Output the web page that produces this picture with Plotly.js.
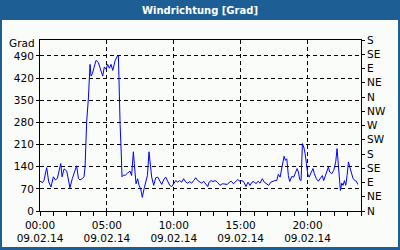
<!DOCTYPE html>
<html>
<head>
<meta charset="utf-8">
<script src="https://cdn.plot.ly/plotly-3.0.1.min.js"></script>
<style>html,body{margin:0;padding:0;background:#1d5f95;}#chart{width:400px;height:250px;}</style>
</head>
<body>
<div id="chart"></div>
<script>
// time of day in hours (09.02.14)
const hours = [0,0.20,0.30,0.50,0.65,0.82,1.00,1.15,1.30,1.45,1.55,1.65,1.80,2.00,2.12,2.24,2.42,2.57,2.74,2.87,2.99,3.19,3.29,3.37,3.42,3.49,3.62,3.69,3.74,3.82,3.92,4.04,4.19,4.36,4.54,4.69,4.81,4.94,5.06,5.19,5.31,5.44,5.61,5.79,5.86,5.89,5.99,6.08,6.13,6.23,6.38,
6.55,6.73,6.85,6.98,7.05,7.18,7.30,7.40,7.53,7.65,7.78,7.90,8.03,8.15,8.25,8.35,8.50,8.65,8.80,8.95,9.10,9.25,9.40,9.55,9.70,9.85,10.00,10.15,10.30,10.44,10.60,10.74,10.89,11.04,11.19,11.34,11.49,11.64,11.79,11.94,12.09,12.24,12.39,12.54,12.64,12.79,12.94,13.09,
13.26,13.46,13.63,13.83,14.01,14.16,14.31,14.46,14.61,14.78,14.95,15.10,15.25,15.40,15.55,15.70,15.85,16.00,16.15,16.30,16.45,16.62,16.77,16.95,17.10,17.25,17.40,17.55,17.70,17.82,17.95,18.10,18.25,18.35,18.45,18.57,18.67,
18.82,18.97,19.12,19.22,19.32,19.42,19.52,19.62,19.72,19.82,19.92,20.02,20.12,20.27,20.41,20.51,20.66,20.81,20.96,21.11,21.21,21.31,21.46,21.56,21.66,21.81,21.96,22.11,22.21,22.31,22.39,22.46,22.56,22.66,22.76,22.86,22.96,23.06,23.16,23.26,23.41,23.56,23.66,23.76];
// wind direction in degrees
const direction = [94,90,97,137,92,76,108,98,103,133,150,108,133,126,103,73,103,122,143,103,98,103,108,140,210,283,357,426,463,426,434,453,476,469,448,426,455,448,463,451,463,444,474,490,490,421,273,177,108,113,113,
120,126,112,187,150,86,102,81,70,43,70,91,112,187,139,107,81,105,107,96,84,99,107,94,81,77,86,96,91,96,91,102,92,88,93,88,96,105,96,91,88,94,86,77,91,96,93,96,
91,81,86,84,84,91,94,86,91,99,94,96,91,77,91,81,91,93,86,94,88,102,91,86,81,91,94,96,96,116,107,144,173,160,165,112,93,
109,107,123,134,123,99,96,213,202,182,150,116,107,123,134,118,102,94,105,112,96,109,128,139,123,118,128,155,197,139,112,65,88,81,96,81,112,155,139,123,102,96,94,84];

const xTickVals = [0,5,10,15,20];
const xTickText = ['00:00<br>09.02.14','05:00<br>09.02.14','10:00<br>09.02.14','15:00<br>09.02.14','20:00<br>09.02.14'];
const yTickVals = [0,70,140,210,280,350,420,490];
const compassVals = [0,45,90,135,180,225,270,315,360,405,450,495,540];
const compassText = ['N','NE','E','SE','S','SW','W','NW','N','NE','E','SE','S'];

const FONT = 'DejaVu Sans';
const bg = '#f9fcf9';
const blue = '#1d5f95';

const traces = [
  {x: hours, y: direction, type: 'scatter', mode: 'lines', line: {color: '#0000ff', width: 1}, hoverinfo: 'skip'},
  {x: [0], y: [0], yaxis: 'y2', type: 'scatter', mode: 'markers', marker: {opacity: 0}, hoverinfo: 'skip'}
];

const layout = {
  width: 400, height: 250,
  margin: {l: 40, r: 39, t: 40, b: 39, pad: 0},
  paper_bgcolor: blue,
  plot_bgcolor: bg,
  showlegend: false,
  font: {family: FONT, size: 10.5, color: '#000'},
  title: {text: 'Windrichtung [Grad]', font: {family: FONT, size: 10, color: '#fff', weight: 'bold'},
          x: 0.5, xanchor: 'center', xref: 'container', y: 1 - 10/250, yref: 'container', yanchor: 'middle'},
  xaxis: {range: [0, 24], tickvals: xTickVals, ticktext: xTickText, ticks: 'outside', ticklen: 4, tickcolor: '#000',
          showline: true, linecolor: '#000', linewidth: 1, mirror: true,
          showgrid: true, gridcolor: '#000', gridwidth: 1, griddash: '4px,3px', zeroline: false,
          minor: {dtick: 1, tick0: 0, ticks: 'outside', ticklen: 4, tickcolor: '#000', showgrid: false},
          fixedrange: true},
  yaxis: {range: [0, 540], tickvals: yTickVals, ticks: 'outside', ticklen: 3, tickcolor: '#000',
          showline: true, linecolor: '#000', linewidth: 1,
          showgrid: true, gridcolor: '#000', gridwidth: 1, griddash: '4px,3px', zeroline: false, fixedrange: true},
  yaxis2: {overlaying: 'y', side: 'right', range: [0, 540], tickvals: compassVals, ticktext: compassText,
           ticks: 'outside', ticklen: 3, tickcolor: '#000', showline: true, linecolor: '#000', linewidth: 1,
           showgrid: false, zeroline: false, fixedrange: true},
  shapes: [{type: 'rect', xref: 'paper', yref: 'paper', layer: 'below',
            x0: (2-40)/321, x1: (398-40)/321, y0: (211-247)/171, y1: 1 + 20/171,
            fillcolor: bg, line: {width: 0}}],
  annotations: [{text: 'Grad', xref: 'paper', yref: 'paper', x: (37-40)/321, y: 1 - 3/171,
                 xanchor: 'right', yanchor: 'middle', showarrow: false, font: {family: FONT, size: 10.5, color: '#000'}}]
};

Plotly.newPlot('chart', traces, layout, {staticPlot: true, displayModeBar: false});
</script>
</body>
</html>
